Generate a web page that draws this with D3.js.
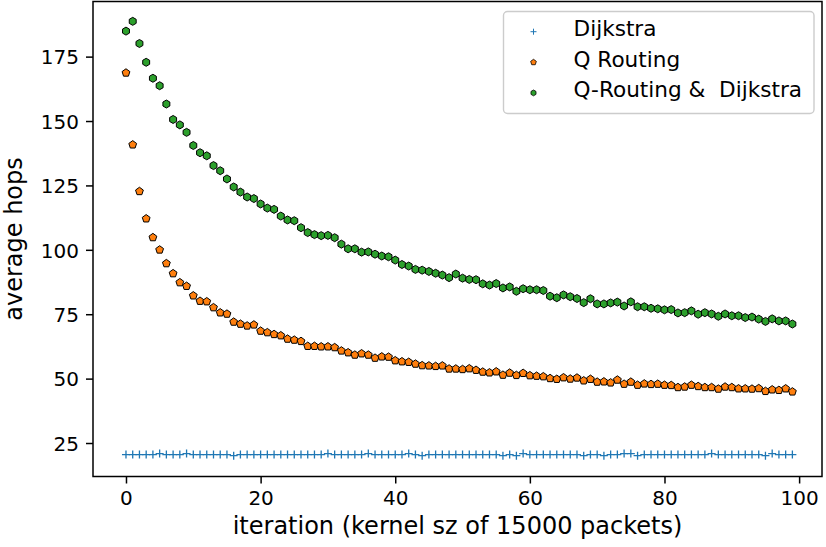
<!DOCTYPE html>
<html><head><meta charset="utf-8">
<script src="https://cdn.jsdelivr.net/npm/d3@7"></script>
<style>body{margin:0;background:#fff}svg{display:block}text{font-family:"DejaVu Sans",sans-serif;white-space:pre}</style>
</head><body>
<svg id="c" width="826" height="547"></svg>
<script>
const iterations = d3.range(100);
const dijkstra = [20.5,20.5,20.5,20.5,20.5,20.9,20.5,20.5,20.5,20.9,20.5,20.5,20.5,20.5,20.5,20.5,20.1,20.5,20.5,20.5,
20.5,20.5,20.5,20.5,20.5,20.5,20.5,20.5,20.5,20.5,20.9,20.5,20.5,20.5,20.5,20.5,20.9,20.5,20.5,20.5,
20.5,20.5,20.9,20.5,20.1,20.5,20.5,20.5,20.5,20.5,20.5,20.5,20.5,20.5,20.5,20.5,20.1,20.5,20.1,20.9,
20.5,20.5,20.5,20.5,20.5,20.5,20.5,20.5,20.1,20.5,20.5,20.1,20.5,20.5,20.9,20.9,20.1,20.5,20.5,20.5,
20.5,20.5,20.5,20.5,20.5,20.5,20.5,20.9,20.5,20.5,20.5,20.5,20.5,20.5,20.5,20.1,20.9,20.5,20.5,20.5];
const qRouting = [168.7,140.8,122.7,112.1,104.8,100.0,94.7,90.8,87.3,85.9,82.2,80.1,79.9,77.6,75.6,75.1,72.0,71.2,70.5,70.9,
68.5,67.9,67.2,66.7,65.4,65.0,64.5,62.6,62.6,62.4,62.4,62.1,60.8,60.1,59.2,59.7,59.2,58.0,58.5,58.4,
57.0,56.6,56.4,55.7,55.1,55.0,54.8,55.0,53.8,53.8,53.6,53.9,53.3,52.6,52.3,52.7,51.4,52.2,51.3,52.1,
51.2,51.0,50.8,50.1,49.8,50.4,49.9,50.3,49.2,49.8,48.7,48.8,48.4,49.5,47.9,48.7,47.5,48.0,47.8,47.9,
47.5,47.4,46.6,46.8,47.5,47.0,46.6,46.6,46.0,46.8,46.6,46.1,46.1,46.0,46.2,45.1,45.7,45.5,46.1,44.9];
const qDijkstra = [184.9,188.7,180.1,172.8,166.6,163.7,156.6,150.6,148.5,145.6,140.5,137.7,136.5,132.7,130.7,127.5,124.4,122.4,120.5,119.9,
117.8,116.2,115.7,113.1,111.6,111.3,108.6,106.7,105.9,105.5,105.6,104.7,102.2,100.4,100.4,99.1,99.2,98.3,97.6,97.3,
96.0,94.3,93.7,92.4,92.1,91.6,90.9,90.2,89.2,90.6,89.0,88.5,88.4,86.8,86.3,86.9,85.2,85.6,83.9,84.9,
84.5,84.5,84.2,82.0,81.4,82.5,81.8,81.1,79.5,81.0,79.0,79.0,79.4,79.7,78.2,79.8,77.9,77.9,77.3,77.1,
76.7,76.8,75.5,75.6,76.3,75.0,75.6,75.1,74.2,75.1,74.4,74.4,73.7,73.9,73.1,72.2,73.2,72.4,72.4,71.2];
const xTicks = [0,20,40,60,80,100];
const yTicks = [25,50,75,100,125,150,175];
const seriesNames = ["Dijkstra","Q Routing","Q-Routing &  Dijkstra"];
const colors = ["#1f77b4","#ff7f0e","#2ca02c"];

const L=93,R=822,T=1.5,B=476.5;
const svg=d3.select("#c");
const x=d3.scaleLinear().domain([-4.9,103.4]).range([L,R]);
const y=d3.scaleLinear().domain([12.0,196.4]).range([B,T]);

function poly(n,r,rot){const p=[];for(let k=0;k<n;k++){const a=rot+k*2*Math.PI/n;p.push([r*Math.sin(a),-r*Math.cos(a)]);}return "M"+p.map(d=>d[0].toFixed(2)+","+d[1].toFixed(2)).join("L")+"Z";}
const pent=poly(5,4.1,0), hex=poly(6,4.0,0), plus="M-4,0H4M0,-4V4";

const g=svg.append("g");
g.selectAll(".d").data(iterations).join("path").attr("d",plus)
 .attr("transform",i=>`translate(${x(i)},${y(dijkstra[i])})`)
 .attr("stroke",colors[0]).attr("stroke-width",1.3).attr("fill","none");
g.selectAll(".q").data(iterations).join("path").attr("d",pent)
 .attr("transform",i=>`translate(${x(i)},${y(qRouting[i])})`)
 .attr("fill",colors[1]).attr("stroke","#000").attr("stroke-width",1);
g.selectAll(".h").data(iterations).join("path").attr("d",hex)
 .attr("transform",i=>`translate(${x(i)},${y(qDijkstra[i])})`)
 .attr("fill",colors[2]).attr("stroke","#000").attr("stroke-width",1);

// axes
const xa=svg.append("g").attr("transform",`translate(0,${B})`)
 .call(d3.axisBottom(x).tickValues(xTicks).tickSize(7).tickPadding(7));
const ya=svg.append("g").attr("transform",`translate(${L},0)`)
 .call(d3.axisLeft(y).tickValues(yTicks).tickSize(7).tickPadding(7));
[xa,ya].forEach(a=>{a.select(".domain").remove();a.selectAll("line").attr("stroke","#000").attr("stroke-width",1.5);
 a.selectAll("text").attr("font-size",20).attr("fill","#000").style("font-family","DejaVu Sans");});
xa.selectAll("text").attr("y",28.5).attr("dy",0);
ya.selectAll("text").attr("dy","0.36em");
svg.append("rect").attr("x",L).attr("y",T).attr("width",R-L).attr("height",B-T)
 .attr("fill","none").attr("stroke","#000").attr("stroke-width",1.5);

svg.append("text").attr("x",(L+R)/2).attr("y",534).attr("text-anchor","middle")
 .attr("font-size",24).text("iteration (kernel sz of 15000 packets)");
svg.append("text").attr("transform",`translate(22,${(T+B)/2}) rotate(-90)`).attr("text-anchor","middle")
 .attr("font-size",24).text("average hops");

// legend
const lg=svg.append("g");
lg.append("rect").attr("x",503.5).attr("y",11.5).attr("width",310.5).attr("height",102).attr("rx",4)
 .attr("fill","#fff").attr("fill-opacity",0.8).attr("stroke","#ccc").attr("stroke-width",1.4);
const shapes=[plus,poly(5,3,0),poly(6,2.9,0)];
seriesNames.forEach((n,k)=>{
 const yy=31.7+k*30.6;
 const p=lg.append("path").attr("d",shapes[k]).attr("transform",`translate(533.5,${yy})`);
 if(k===0)p.attr("stroke",colors[0]).attr("stroke-width",1).attr("fill","none").attr("d","M-3,0H3M0,-3V3");
 else p.attr("fill",colors[k]).attr("stroke","#000").attr("stroke-width",0.8);
 lg.append("text").attr("x",573.5).attr("y",yy+4.5).attr("font-size",21.6).attr("xml:space","preserve").text(n);
});
</script>
</body></html>
